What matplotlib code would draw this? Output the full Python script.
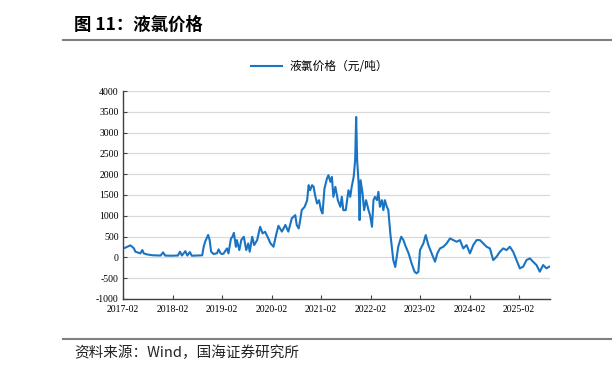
import matplotlib.pyplot as plt

plt.rcParams['font.family'] = ['Noto Sans CJK SC', 'DejaVu Sans']

# 液氯价格（元/吨），x 为小数年份（按图中位置读取）
years = [
    2017.13, 2017.18, 2017.24, 2017.31, 2017.34, 2017.41, 2017.44, 2017.48, 2017.51, 2017.54,
    2017.58, 2017.70, 2017.85, 2017.90, 2017.94, 2018.05, 2018.20, 2018.24, 2018.28, 2018.35,
    2018.39, 2018.44, 2018.48, 2018.59, 2018.69, 2018.72, 2018.75, 2018.78, 2018.81, 2018.84,
    2018.87, 2018.92, 2018.99, 2019.02, 2019.06, 2019.09, 2019.12, 2019.19, 2019.22, 2019.27,
    2019.30, 2019.33, 2019.37, 2019.39, 2019.44, 2019.48, 2019.53, 2019.58, 2019.62, 2019.65,
    2019.70, 2019.74, 2019.80, 2019.86, 2019.91, 2019.96, 2020.01, 2020.07, 2020.13, 2020.19,
    2020.23, 2020.30, 2020.37, 2020.43, 2020.50,
    2020.57, 2020.60, 2020.64, 2020.67, 2020.70, 2020.76, 2020.81, 2020.84, 2020.87, 2020.91,
    2020.94, 2020.97, 2021.01, 2021.05, 2021.09, 2021.12, 2021.16, 2021.21, 2021.24, 2021.28,
    2021.31, 2021.34, 2021.38, 2021.43, 2021.48, 2021.51, 2021.54, 2021.59, 2021.645, 2021.68,
    2021.71, 2021.75, 2021.78, 2021.80, 2021.82, 2021.85, 2021.87, 2021.89, 2021.93, 2021.96,
    2022.00, 2022.05, 2022.08, 2022.12, 2022.15, 2022.18, 2022.22, 2022.25, 2022.28, 2022.32,
    2022.35, 2022.38, 2022.42, 2022.45, 2022.49, 2022.52, 2022.55, 2022.59, 2022.62, 2022.65,
    2022.71, 2022.755, 2022.79, 2022.86, 2022.92, 2022.98, 2023.02, 2023.057,
    2023.09, 2023.158, 2023.205, 2023.259, 2023.326,
    2023.393, 2023.44, 2023.494, 2023.561, 2023.628, 2023.695, 2023.763, 2023.83, 2023.897, 2023.964,
    2024.031, 2024.099, 2024.166, 2024.233, 2024.30, 2024.368, 2024.435, 2024.502, 2024.569, 2024.636,
    2024.704, 2024.771, 2024.838, 2024.905, 2024.972, 2025.04, 2025.107, 2025.174, 2025.241, 2025.308,
    2025.376, 2025.443, 2025.51, 2025.577, 2025.644, 2025.698,
]
prices = [
    230, 258, 290, 218, 137, 110, 97, 177, 95, 85,
    70, 50, 45, 120, 45, 40, 45, 137, 45, 150,
    45, 129, 40, 45, 50, 258, 380, 460, 540, 419,
    137, 80, 100, 193, 100, 80, 90, 216, 96, 450,
    496, 590, 256, 416, 176, 420, 496, 176, 336, 136,
    496, 296, 416, 736, 576, 616, 496, 336, 256, 576,
    760, 620, 780, 620, 940,
    1016, 776, 696, 896, 1136, 1216, 1376, 1736, 1616, 1736,
    1700, 1496, 1296, 1376, 1136, 1056, 1656, 1896, 1976, 1816,
    1936, 1456, 1696, 1376, 1216, 1456, 1136, 1136, 1616, 1456,
    1696, 1936, 2336, 3376, 2336, 1776, 896, 1856, 1536, 1136,
    1376, 1136, 1016, 736, 1376, 1456, 1376, 1576, 1216, 1376,
    1136, 1376, 1216, 1136, 576, 256, -64, -230, 16, 256,
    496, 416, 296, 96, -144, -344, -384, -344,
    176, 336, 536, 296, 96,
    -104, 96, 216, 256, 336, 456, 416, 376, 416, 216,
    296, 96, 296, 416, 416, 336, 256, 216, -64, 16,
    136, 216, 176, 256, 136, -64, -264, -224, -64, -24,
    -104, -184, -344, -184, -264, -224,
]
assert len(years) == len(prices)

tick_years = [2017, 2018, 2019, 2020, 2021, 2022, 2023, 2024, 2025]
tick_labels = [f"{y}-02" for y in tick_years]
y_ticks = list(range(-1000, 4001, 500))

fig = plt.figure(figsize=(6.12, 3.75), dpi=100)
ax = fig.add_axes([0.201, 0.2027, 0.698, 0.5546])

ax.plot(years, prices, color="#1a74c4", linewidth=1.5, label="液氯价格（元/吨）")

ax.set_xlim(2017.09, 2025.72)
ax.set_ylim(-1000, 4000)
ax.set_xticks([y + 0.09 for y in tick_years])
ax.set_xticklabels(tick_labels, family="Liberation Serif", fontsize=7)
ax.set_yticks(y_ticks)
ax.set_yticklabels([str(v) for v in y_ticks], family="Liberation Serif", fontsize=7)
ax.tick_params(direction="in", length=3, color="#404040", pad=3)
ax.tick_params(axis="x", pad=4)

ax.grid(axis="y", color="#d9d9d9", linewidth=0.9)
ax.set_axisbelow(True)
for s in ["top", "right"]:
    ax.spines[s].set_visible(False)
for s in ["left", "bottom"]:
    ax.spines[s].set_color("#404040")
    ax.spines[s].set_linewidth(1.0)

ax.legend(loc="lower center", bbox_to_anchor=(0.46, 1.035), frameon=False,
          fontsize=8.5, handlelength=2.6, handletextpad=0.6)

# 标题与来源
fig.text(0.121, 0.935, "图 11：液氯价格", fontsize=12.5, fontweight="bold", va="center")
fig.add_artist(plt.Line2D([0.103, 1.0], [0.893, 0.893], color="#7f7f7f", linewidth=1.5))
fig.add_artist(plt.Line2D([0.103, 1.0], [0.097, 0.097], color="#7f7f7f", linewidth=1.5))
fig.text(0.121, 0.058, "资料来源：Wind，国海证券研究所", fontsize=10.5, va="center", color="#222222")

fig.savefig("out.png", dpi=100)
